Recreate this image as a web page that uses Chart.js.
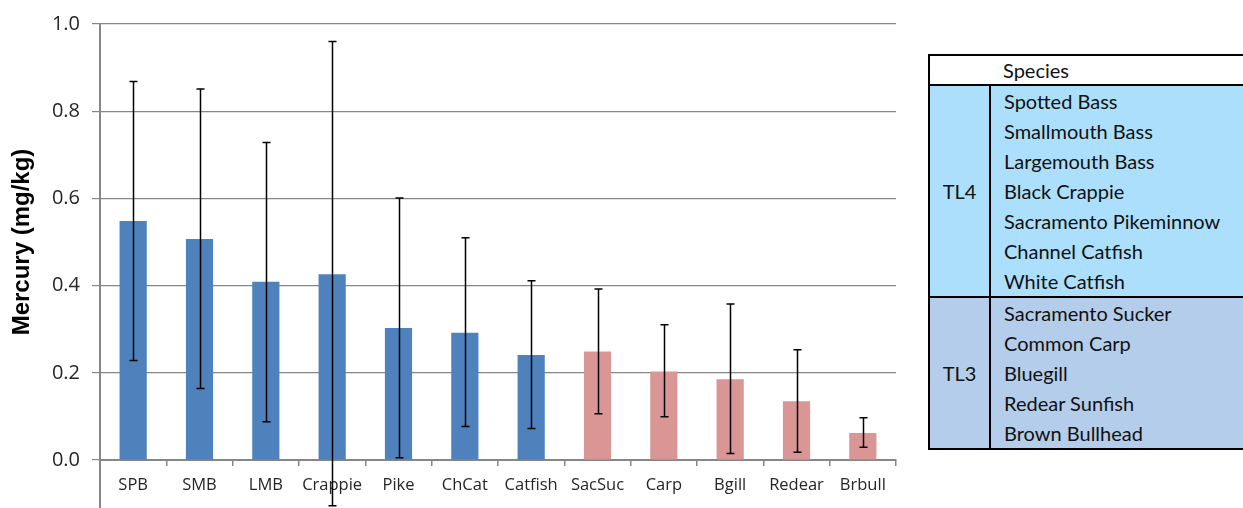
<!DOCTYPE html>
<html>
<head>
<meta charset="utf-8">
<script src="https://cdn.jsdelivr.net/npm/chart.js@4.4.1/dist/chart.umd.min.js"></script>
<style>
  html, body { margin: 0; padding: 0; background: #fff; }
  body { width: 1243px; height: 508px; position: relative; overflow: hidden; }
  #wrap { position: absolute; left: 0; top: 0; width: 910px; height: 508px; }
  #tablebox { position: absolute; left: 928px; top: 54px; width: 315px; height: 400px; overflow: hidden; }
  #species {
    width: 380px; table-layout: fixed; border-collapse: collapse;
    font-family: "Lato", "Open Sans", sans-serif; font-size: 20px; color: #111;
  }
  #species td { border: 2px solid #000; padding: 0; }
  #species td.tl { width: 60px; text-align: center; }
  #species td.names { padding-left: 13px; }
  #species .row { height: 30px; line-height: 30px; }
  #species tr.head td { height: 28px; line-height: 28px; background: #fff; }
  #species tr.tl4 td { background: #abdffb; }
  #species tr.tl3 td { background: #b4cdea; }
  #species tr.head td.tl { border-right: none; }
  #species tr.head td.names { border-left: none; }
</style>
</head>
<body>
<div id="wrap"><canvas id="barChart"></canvas></div>
<div id="tablebox">
<table id="species">
  <tr class="head"><td class="tl"></td><td class="names">Species</td></tr>
  <tr class="tl4"><td class="tl">TL4</td><td class="names" id="tl4names"></td></tr>
  <tr class="tl3"><td class="tl">TL3</td><td class="names" id="tl3names"></td></tr>
</table>
</div>
<script>
var categories = ["SPB", "SMB", "LMB", "Crappie", "Pike", "ChCat", "Catfish",
    "SacSuc", "Carp", "Bgill", "Redear", "Brbull"];
var trophic_level = ["TL4", "TL4", "TL4", "TL4", "TL4", "TL4", "TL4",
    "TL3", "TL3", "TL3", "TL3", "TL3"];
var mercury_mean = [0.548, 0.507, 0.409, 0.426, 0.303, 0.292, 0.241,
    0.249, 0.203, 0.185, 0.135, 0.062];
var error_upper = [0.868, 0.851, 0.728, 0.960, 0.601, 0.510, 0.411,
    0.392, 0.310, 0.358, 0.253, 0.097];
var error_lower = [0.228, 0.164, 0.088, -0.105, 0.005, 0.077, 0.072,
    0.106, 0.099, 0.015, 0.018, 0.029];
var tl4_species = ["Spotted Bass", "Smallmouth Bass", "Largemouth Bass",
    "Black Crappie", "Sacramento Pikeminnow", "Channel Catfish", "White Catfish"];
var tl3_species = ["Sacramento Sucker", "Common Carp", "Bluegill",
    "Redear Sunfish", "Brown Bullhead"];

// species table
function fill_names(id, names) {
    document.getElementById(id).innerHTML = names
        .map((n) => '<div class="row">' + n + "</div>")
        .join("");
}
fill_names("tl4names", tl4_species);
fill_names("tl3names", tl3_species);

var colors_bars = trophic_level.map((t) => (t === "TL4" ? "#4f81bd" : "#d99694"));
var axisGray = "#868686";

//-------------
//- ERROR BARS -
//-------------
var errorBars = {
    id: "errorBars",
    afterDatasetsDraw: function (chart) {
        var ctx = chart.ctx;
        var y = chart.scales.y;
        var meta = chart.getDatasetMeta(0);
        ctx.save();
        ctx.strokeStyle = "#000";
        ctx.lineWidth = 1.5;
        meta.data.forEach(function (bar, i) {
            var x = Math.round(bar.x) + 0.5;
            var yTop = y.getPixelForValue(error_upper[i]);
            var yBot = y.getPixelForValue(error_lower[i]);
            ctx.beginPath();
            ctx.moveTo(x, yTop);
            ctx.lineTo(x, yBot);
            ctx.moveTo(x - 4, yTop);
            ctx.lineTo(x + 4, yTop);
            ctx.moveTo(x - 4, yBot);
            ctx.lineTo(x + 4, yBot);
            ctx.stroke();
        });
        // axis line runs on below the plot
        var left = chart.chartArea.left;
        ctx.strokeStyle = axisGray;
        ctx.lineWidth = 2;
        ctx.beginPath();
        ctx.moveTo(left, chart.chartArea.bottom);
        ctx.lineTo(left, chart.height);
        ctx.stroke();
        ctx.restore();
    },
};

var barCanvas = document.getElementById("barChart").getContext("2d");
new Chart(barCanvas, {
    type: "bar",
    data: {
        labels: categories,
        datasets: [
            {
                data: mercury_mean,
                backgroundColor: colors_bars,
                barPercentage: 1,
                categoryPercentage: 0.41,
            },
        ],
    },
    options: {
        responsive: true,
        maintainAspectRatio: false,
        animation: false,
        layout: { padding: { top: 19, right: 14, left: 0, bottom: 0 } },
        plugins: {
            legend: { display: false },
            tooltip: { enabled: false },
        },
        scales: {
            x: {
                grid: {
                    display: true,
                    drawOnChartArea: false,
                    tickLength: 6,
                    color: axisGray,
                    lineWidth: 1.5,
                },
                border: { display: true, color: axisGray, width: 2 },
                ticks: {
                    color: "#262626",
                    padding: 9,
                    maxRotation: 0,
                    font: { family: "Open Sans", size: 16.5 },
                },
                afterFit: function (scale) {
                    scale.height = 48;
                },
            },
            y: {
                min: 0,
                max: 1.0,
                ticks: {
                    stepSize: 0.2,
                    color: "#262626",
                    padding: 12,
                    font: { family: "Open Sans", size: 20 },
                    callback: (v) => v.toFixed(1),
                },
                grid: { color: axisGray, lineWidth: 1.2, tickLength: 8 },
                border: { display: true, color: axisGray, width: 2 },
                title: {
                    display: true,
                    text: "Mercury (mg/kg)",
                    color: "#000",
                    padding: { top: 8, bottom: 0 },
                    font: { family: "Liberation Sans", size: 24, weight: "bold" },
                },
                afterFit: function (scale) {
                    scale.width = 100;
                },
            },
        },
    },
    plugins: [errorBars],
});
</script>
</body>
</html>
